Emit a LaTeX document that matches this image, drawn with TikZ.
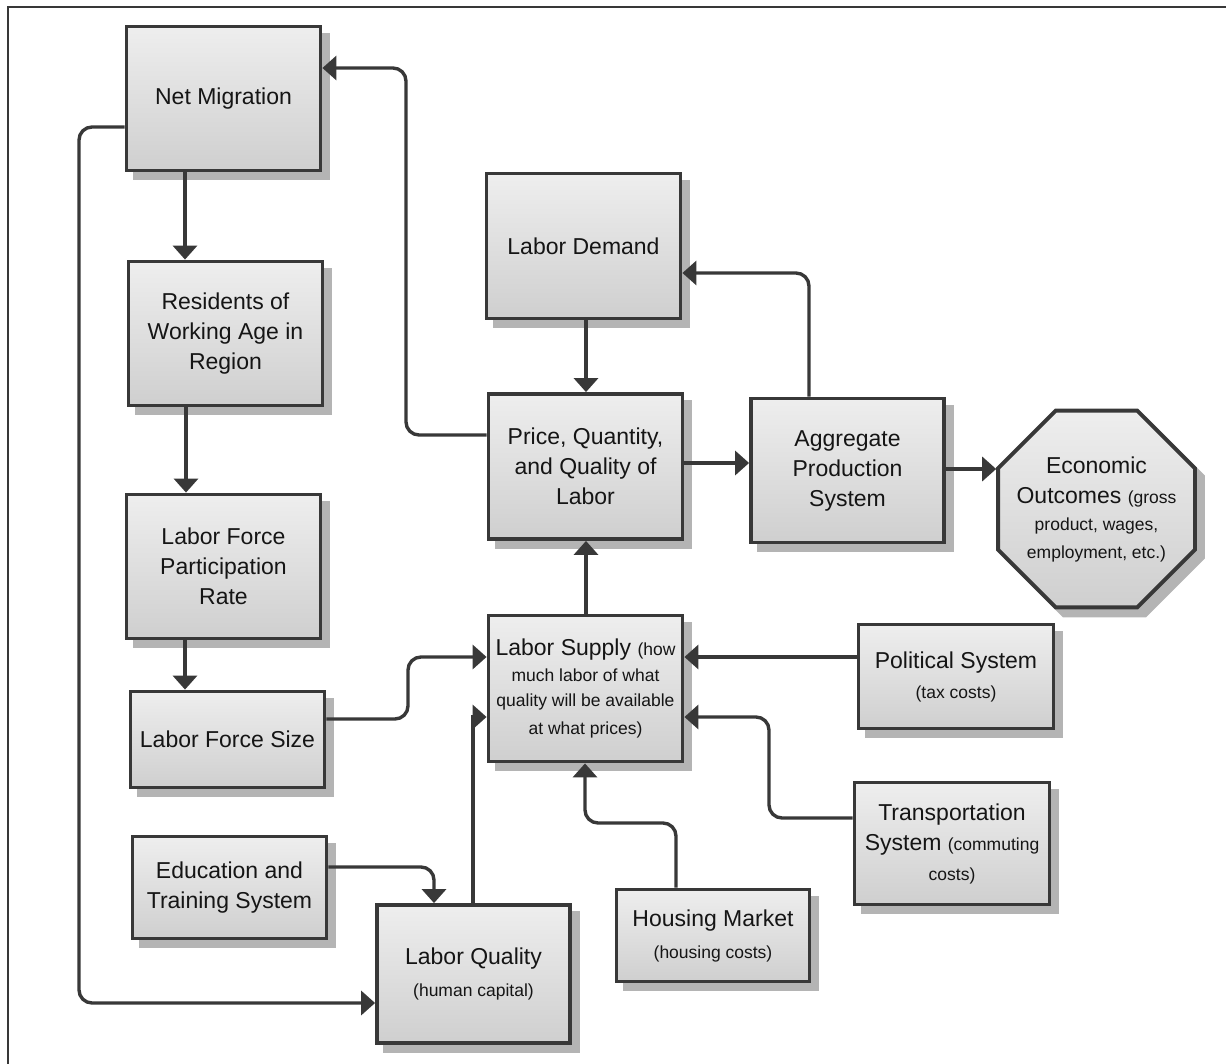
\documentclass[tikz,border=0pt]{standalone}
\usepackage{fontspec}
\setmainfont{Liberation Sans}
\usetikzlibrary{arrows.meta,shapes.geometric,shadows}

\definecolor{edge}{HTML}{383838}
\definecolor{boxtop}{HTML}{EEEEEE}
\definecolor{boxbot}{HTML}{CFCFCF}
\definecolor{shade}{HTML}{B4B4B4}
\definecolor{ink}{HTML}{151515}

\newcommand{\bigtxt}{\fontsize{23}{30}\selectfont}
\newcommand{\smalltxt}{\fontsize{17.5}{26}\selectfont}

\begin{document}
\begin{tikzpicture}[x=1pt,y=-1pt,
  box/.style={draw=edge, line width=3.8pt, top color=boxtop, bottom color=boxbot,
    align=center, font=\bigtxt, text=ink, inner sep=2pt,
    drop shadow={shadow xshift=8pt, shadow yshift=-8pt, fill=shade, draw=shade,
      line width=3.8pt, opacity=1}},
  caption/.style={align=center, font=\bigtxt, text=ink, inner sep=0pt},
  conn/.style={draw=edge, line width=3.4pt, rounded corners=13pt,
    -{Triangle[width=24pt,length=14pt]}},
  frame/.style={draw=edge, line width=2pt}]

\useasboundingbox (0,0) rectangle (1226,1064);
\draw[frame] (8,1064) -- (8,7) -- (1226,7);

% left column
\node[box, minimum width=194pt, minimum height=144pt] (nm) at (223.5,98.5) {Net Migration};
\node[box, minimum width=194pt, minimum height=144pt] (res) at (225.5,333.5) {Residents of\\Working Age in\\Region};
\node[box, minimum width=194pt, minimum height=144pt] (lfpr) at (223.5,566.5) {Labor Force\\Participation\\Rate};
\node[box, minimum width=194pt, minimum height=96pt] (lfs) at (227.5,739.5) {Labor Force Size};
\node[box, minimum width=194pt, minimum height=102pt] (edu) at (229.5,887.5) {Education and\\Training System};
\node[box, minimum width=193pt, minimum height=138pt] (lq) at (473.5,974) {Labor Quality\\[2pt]{\smalltxt (human capital)}};

% market core
\node[box, minimum width=194pt, minimum height=145pt] (ld) at (583.5,246) {Labor Demand};
\node[box, minimum width=194pt, minimum height=145pt] (pq) at (585.5,466.5) {Price, Quantity,\\and Quality of\\Labor};
\node[box, minimum width=193pt, minimum height=144pt] (aps) at (847.5,470.5) {Aggregate\\Production\\System};
\node[box, regular polygon, regular polygon sides=8, minimum size=213pt, inner sep=0pt] (eo) at (1096.5,509) {};
\node[caption] (eotext) at (eo.center)
  {Economic\\Outcomes {\smalltxt (gross}\\[-3pt]{\smalltxt product, wages,}\\[-2pt]{\smalltxt employment, etc.)}};
\node[box, minimum width=194pt, minimum height=146pt] (ls) at (585.5,688.5)
  {Labor Supply {\smalltxt (how}\\[-4pt]{\smalltxt much labor of what}\\[-5pt]{\smalltxt quality will be available}\\[-2pt]{\smalltxt at what prices)}};

% outside systems
\node[box, minimum width=195pt, minimum height=104pt] (ps) at (956,676.5) {Political System\\{\smalltxt (tax costs)}};
\node[box, minimum width=195pt, minimum height=122pt] (ts) at (952,843.5) {Transportation\\System {\smalltxt (commuting}\\{\smalltxt costs)}};
\node[box, minimum width=193pt, minimum height=92pt] (hm) at (713,935.5) {Housing Market\\[2pt]{\smalltxt (housing costs)}};

% population chain
\draw[conn] (185,0 |- nm.south) -- (185,0 |- res.north);
\draw[conn] (186,0 |- res.south) -- (186,0 |- lfpr.north);
\draw[conn] (185,0 |- lfpr.south) -- (185,0 |- lfs.north);

% migration feeds labour quality; market feeds migration
\draw[conn] (nm.west |- 0,127) -- (79,127) -- (79,1003) -- (lq.west |- 0,1003);
\draw[conn] (pq.west |- 0,435) -- (406,435) -- (406,68) -- (nm.east |- 0,68);

% demand and production loop
\draw[conn] (586,0 |- ld.south) -- (586,0 |- pq.north);
\draw[conn] (809,0 |- aps.north) -- (809,273) -- (ld.east |- 0,273);
\draw[conn] (pq.east |- 0,463) -- (aps.west |- 0,463);
\draw[conn] (aps.east |- 0,469) -- (eo.west |- 0,469);
\draw[conn] (586,0 |- ls.north) -- (586,0 |- pq.south);

% inputs to labour supply
\draw[conn] (lfs.east |- 0,719) -- (408,719) -- (408,657) -- (ls.west |- 0,657);
\draw[conn, rounded corners=0pt] (473,0 |- lq.north) -- (473,717) -- (ls.west |- 0,717);
\draw[conn] (edu.east |- 0,867) -- (434,867) -- (434,0 |- lq.north);
\draw[conn] (676,0 |- hm.north) -- (676,823) -- (585,823) -- (585,0 |- ls.south);
\draw[conn] (ps.west |- 0,657) -- (ls.east |- 0,657);
\draw[conn] (ts.west |- 0,818) -- (769,818) -- (769,717) -- (ls.east |- 0,717);

\end{tikzpicture}
\end{document}
